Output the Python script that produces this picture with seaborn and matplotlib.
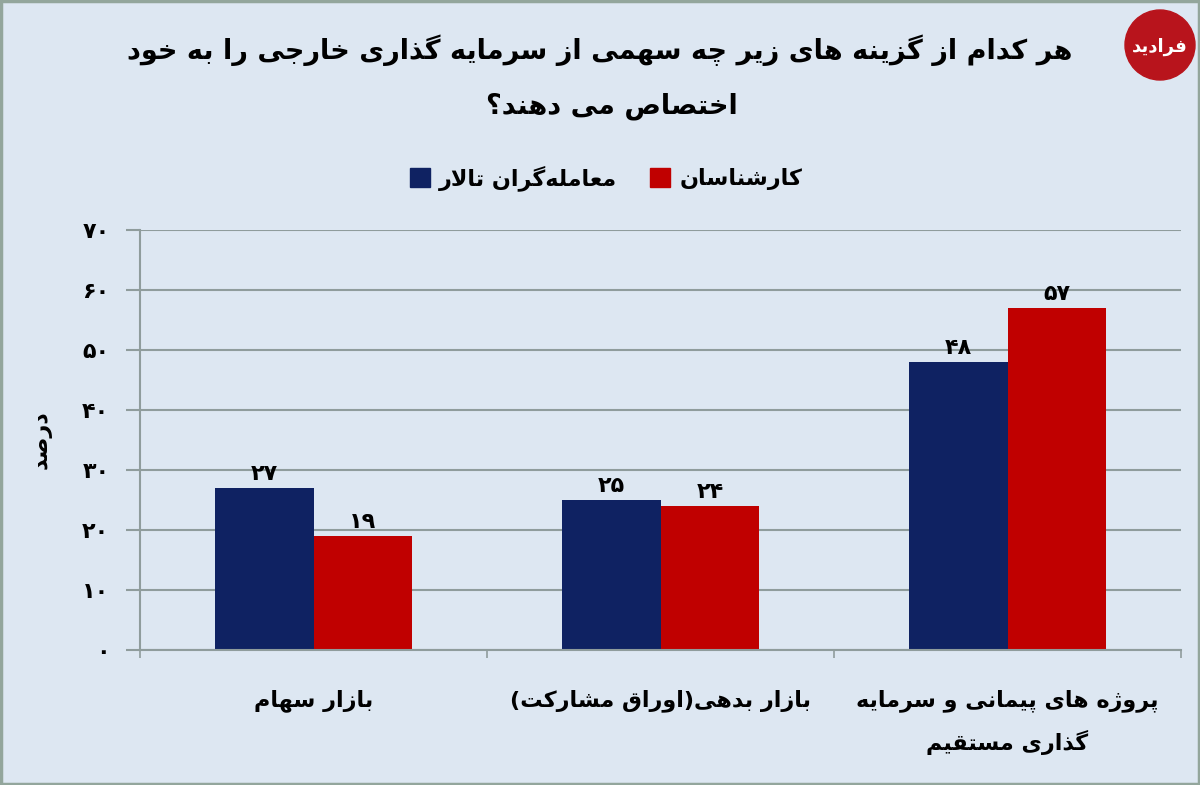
import matplotlib
matplotlib.use("Agg")
import matplotlib.pyplot as plt
import matplotlib.patches as mpatches
import seaborn as sns
import pandas as pd

# === data ===
categories = ["بازار سهام", "بازار بدهی(اوراق مشارکت)", "پروژه های پیمانی و سرمایه\nگذاری مستقیم"]
series_names = ["معامله‌گران تالار", "کارشناسان"]
traders = [27, 25, 48]
experts = [19, 24, 57]
yticks = [0, 10, 20, 30, 40, 50, 60, 70]
title_lines = ["هر کدام از گزینه های زیر چه سهمی از سرمایه گذاری خارجی را به خود", "اختصاص می دهند؟"]
ylabel = "درصد"
logo_text = "فرادید"

BLUE = "#0f2262"
RED = "#c00000"
BG = "#dde7f2"
GRID = "#8f9c9c"

# === minimal Persian shaping (matplotlib has no bidi / joining) ===
FORMS = {
    "\u0627": ("\uFE8D", "\uFE8E", None, None),
    "\u0622": ("\uFE81", "\uFE82", None, None),
    "\u0628": ("\uFE8F", "\uFE90", "\uFE91", "\uFE92"),
    "\u067E": ("\uFB56", "\uFB57", "\uFB58", "\uFB59"),
    "\u062A": ("\uFE95", "\uFE96", "\uFE97", "\uFE98"),
    "\u062B": ("\uFE99", "\uFE9A", "\uFE9B", "\uFE9C"),
    "\u062C": ("\uFE9D", "\uFE9E", "\uFE9F", "\uFEA0"),
    "\u0686": ("\uFB7A", "\uFB7B", "\uFB7C", "\uFB7D"),
    "\u062D": ("\uFEA1", "\uFEA2", "\uFEA3", "\uFEA4"),
    "\u062E": ("\uFEA5", "\uFEA6", "\uFEA7", "\uFEA8"),
    "\u062F": ("\uFEA9", "\uFEAA", None, None),
    "\u0630": ("\uFEAB", "\uFEAC", None, None),
    "\u0631": ("\uFEAD", "\uFEAE", None, None),
    "\u0632": ("\uFEAF", "\uFEB0", None, None),
    "\u0698": ("\uFB8A", "\uFB8B", None, None),
    "\u0633": ("\uFEB1", "\uFEB2", "\uFEB3", "\uFEB4"),
    "\u0634": ("\uFEB5", "\uFEB6", "\uFEB7", "\uFEB8"),
    "\u0635": ("\uFEB9", "\uFEBA", "\uFEBB", "\uFEBC"),
    "\u0636": ("\uFEBD", "\uFEBE", "\uFEBF", "\uFEC0"),
    "\u0637": ("\uFEC1", "\uFEC2", "\uFEC3", "\uFEC4"),
    "\u0638": ("\uFEC5", "\uFEC6", "\uFEC7", "\uFEC8"),
    "\u0639": ("\uFEC9", "\uFECA", "\uFECB", "\uFECC"),
    "\u063A": ("\uFECD", "\uFECE", "\uFECF", "\uFED0"),
    "\u0641": ("\uFED1", "\uFED2", "\uFED3", "\uFED4"),
    "\u0642": ("\uFED5", "\uFED6", "\uFED7", "\uFED8"),
    "\u06A9": ("\uFB8E", "\uFB8F", "\uFB90", "\uFB91"),
    "\u06AF": ("\uFB92", "\uFB93", "\uFB94", "\uFB95"),
    "\u0644": ("\uFEDD", "\uFEDE", "\uFEDF", "\uFEE0"),
    "\u0645": ("\uFEE1", "\uFEE2", "\uFEE3", "\uFEE4"),
    "\u0646": ("\uFEE5", "\uFEE6", "\uFEE7", "\uFEE8"),
    "\u0647": ("\uFEE9", "\uFEEA", "\uFEEB", "\uFEEC"),
    "\u0648": ("\uFEED", "\uFEEE", None, None),
    "\u06CC": ("\uFBFC", "\uFBFD", "\uFBFE", "\uFBFF"),
}
LAM_ALEF = {"\u0627": ("\uFEFB", "\uFEFC"), "\u0622": ("\uFEF5", "\uFEF6")}


def _dual(c):
    return c in FORMS and FORMS[c][2] is not None


def fa(text):
    lines = []
    for line in text.split("\n"):
        ch = list(line)
        out = []
        i = 0
        while i < len(ch):
            c = ch[i]
            if c not in FORMS:
                if c != "\u200c":
                    out.append(c)
                i += 1
                continue
            conn_prev = i > 0 and _dual(ch[i - 1])
            if c == "\u0644" and i + 1 < len(ch) and ch[i + 1] in LAM_ALEF:
                iso, fin = LAM_ALEF[ch[i + 1]]
                out.append(fin if conn_prev else iso)
                i += 2
                continue
            conn_next = _dual(c) and i + 1 < len(ch) and ch[i + 1] in FORMS
            iso, fin, ini, med = FORMS[c]
            if conn_prev and conn_next:
                out.append(med)
            elif conn_prev:
                out.append(fin)
            elif conn_next:
                out.append(ini)
            else:
                out.append(iso)
            i += 1
        vis = "".join(reversed(out))
        vis = vis.translate(str.maketrans("()", ")("))
        lines.append(vis)
    return "\n".join(lines)


def fa_num(n):
    return str(n).translate(str.maketrans("0123456789", "۰۱۲۳۴۵۶۷۸۹"))


# === table for seaborn ===
df = pd.DataFrame({
    "category": categories * 2,
    "series": [series_names[0]] * 3 + [series_names[1]] * 3,
    "value": traders + experts,
})

sns.set_theme(style="white")
plt.rcParams["font.family"] = ["DejaVu Sans"]
plt.rcParams["font.weight"] = "bold"
for k in ["text.color", "axes.labelcolor", "xtick.color", "ytick.color"]:
    plt.rcParams[k] = "black"

fig = plt.figure(figsize=(12, 7.85), dpi=100, facecolor=BG)
ax = fig.add_axes([140 / 1200, 1 - 650 / 785, 1041 / 1200, 420 / 785])
ax.set_facecolor(BG)

sns.barplot(data=df, x="category", y="value", hue="series", order=categories,
            hue_order=series_names, palette=[BLUE, RED], width=0.57, gap=0,
            saturation=1, linewidth=0, ax=ax, legend=False)

# === data labels ===
for cont, vals in zip(ax.containers, [traders, experts]):
    ax.bar_label(cont, labels=[fa_num(v) for v in vals], padding=3,
                 fontsize=16, fontweight="bold", color="black")

# === axes styling ===
ax.set_xlim(-0.5, 2.5)
ax.set_ylim(0, 70)
ax.set_yticks(yticks)
ax.set_yticklabels([fa_num(v) for v in yticks], fontsize=16, fontweight="bold")
ax.yaxis.grid(True, color=GRID, lw=1.5)
ax.set_axisbelow(True)
ax.tick_params(axis="y", length=10, width=1.5, color=GRID, pad=12, left=True)

ax.set_xticks(range(len(categories)))
ax.set_xticklabels([fa(c) for c in categories], fontsize=16, fontweight="bold",
                   linespacing=1.9)
ax.tick_params(axis="x", length=0, pad=28)
ax.set_xticks([-0.5, 0.5, 1.5, 2.5], minor=True)
ax.tick_params(axis="x", which="minor", length=6, width=1.2, color=GRID, bottom=True)

for s in ["top", "right"]:
    ax.spines[s].set_visible(False)
for s in ["left", "bottom"]:
    ax.spines[s].set_color(GRID)
    ax.spines[s].set_linewidth(1.5)

ax.set_xlabel("")
ax.set_ylabel(fa(ylabel), fontsize=16, fontweight="bold", labelpad=22)

# === legend ===
handles = [mpatches.Patch(color=BLUE), mpatches.Patch(color=RED)]
fig.legend(handles, [fa(s) for s in series_names], loc="center",
           bbox_to_anchor=(0.505, 1 - 178 / 785), ncol=2, frameon=False,
           fontsize=16, handlelength=0.9, handleheight=0.9, columnspacing=1.5,
           handletextpad=0.4)

# === title ===
fig.text(0.5, 1 - 50 / 785, fa(title_lines[0]), ha="center", va="center",
         fontsize=19.5, fontweight="bold")
fig.text(0.51, 1 - 106 / 785, fa(title_lines[1]), ha="center", va="center",
         fontsize=19.5, fontweight="bold")

# === logo and border ===
fig.patches.append(mpatches.Ellipse((1160 / 1200, 1 - 45 / 785), 70 / 1200, 70 / 785,
                                    transform=fig.transFigure, color="#b8141c"))
fig.text(1160 / 1200, 1 - 47 / 785, fa(logo_text), ha="center", va="center",
         fontsize=13, fontweight="bold", color="white")
fig.patches.append(mpatches.Rectangle((0.001, 0.001), 0.998, 0.998, transform=fig.transFigure,
                                      fill=False, edgecolor="#93a69c", lw=2.5))

fig.savefig("out.png", dpi=100, facecolor=BG)
